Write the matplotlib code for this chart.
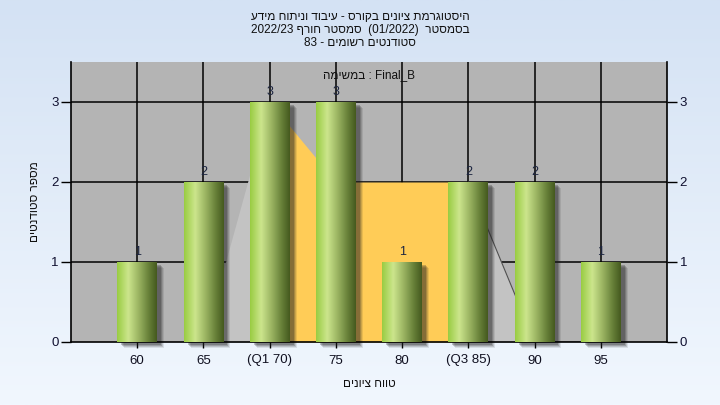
import re
import numpy as np
import matplotlib
matplotlib.use("Agg")
import matplotlib.pyplot as plt
from matplotlib.colors import LinearSegmentedColormap
from matplotlib.patches import Rectangle
from matplotlib.transforms import offset_copy

# ---------------- data ----------------
tick_labels = ["60", "65", "(Q1 70)", "75", "80", "(Q3 85)", "90", "95"]
counts = [1, 2, 3, 3, 1, 2, 2, 1]
area_values = [0, 0, 3, 2, 2, 2, 0, 0]
q1_index = 2
q3_index = 5

title_lines = [
    "היסטוגרמת ציונים בקורס - עיבוד וניתוח מידע",
    "בסמסטר  (01/2022)  סמסטר חורף 2022/23",
    "סטודנטים רשומים - 83",
]
subtitle = "Final_B : במשימה"
xlabel = "טווח ציונים"
ylabel = "מספר סטודנטים"

FONT = ["Liberation Sans", "DejaVu Sans"]


def vis(s):
    """Simple RTL paragraph -> visual LTR order."""
    runs = re.findall(r"[A-Za-z0-9_/().]+|[^A-Za-z0-9_/().]+", s)
    out = []
    for r in reversed(runs):
        if re.match(r"[A-Za-z0-9_/().]", r):
            out.append(r)
        else:
            out.append(r[::-1])
    return "".join(out)


fig = plt.figure(figsize=(7.2, 4.05), dpi=100)

# background gradient
bg = fig.add_axes([0, 0, 1, 1], zorder=-10)
top_c = np.array([212, 226, 244]) / 255
bot_c = np.array([241, 247, 254]) / 255
t = np.linspace(0, 1, 256)[:, None]
grad = top_c[None, :] * (1 - t) + bot_c[None, :] * t
bg.imshow(grad[:, None, :], aspect="auto", extent=[0, 1, 0, 1])
bg.axis("off")

ax = fig.add_axes([71 / 720, 63 / 405, 596 / 720, 280 / 405])
ax.set_facecolor("#b4b4b4")
x = np.arange(len(counts))
ax.set_xlim(-1, 8)
ax.set_ylim(0, 3.5)

# grid
for xi in x:
    ax.plot([xi, xi], [0, 3.5], color="black", lw=1.1, zorder=0.6)
for yi in range(1, 4):
    ax.plot([-1, 8], [yi, yi], color="black", lw=1.1, zorder=0.6)

# area series
xa = x.astype(float)
ya = np.array(area_values, dtype=float)
ax.fill_between(xa[: q1_index + 1], ya[: q1_index + 1], 0, color="#c3c3c3", lw=0, zorder=1)
ax.fill_between(xa[q3_index:], ya[q3_index:], 0, color="#c3c3c3", lw=0, zorder=1)
ax.fill_between(xa[q1_index: q3_index + 1], ya[q1_index: q3_index + 1], 0,
                color="#ffcc57", lw=0, zorder=1.1)
ax.plot(xa[q3_index:], ya[q3_index:], color="#505050", lw=0.8, zorder=1.2)

# bars with shadow and cylinder gradient
w = 0.6
cmap = LinearSegmentedColormap.from_list(
    "cyl",
    [(0.0, (0.60, 0.80, 0.26)), (0.28, (0.80, 0.90, 0.55)),
     (0.55, (0.60, 0.70, 0.38)), (0.8, (0.40, 0.50, 0.22)),
     (1.0, (0.27, 0.35, 0.12))])
gradimg = np.linspace(0, 1, 200)[None, :]
label_tr = offset_copy(ax.transData, fig=fig, x=0, y=4, units="dots")
for xi, v in zip(x, counts):
    for k, (d, a) in enumerate([(7, 0.10), (6, 0.15), (5, 0.2), (4, 0.25)]):
        tr = offset_copy(ax.transData, fig=fig, x=d, y=-d + 1, units="dots")
        ax.add_patch(Rectangle((xi - w / 2, 0), w, v, transform=tr,
                               facecolor="#202020", alpha=a, lw=0,
                               zorder=2, clip_on=False))
    ax.imshow(gradimg, extent=[xi - w / 2, xi + w / 2, 0, v], aspect="auto",
              cmap=cmap, zorder=3, interpolation="bilinear")
    ax.text(xi, v, str(v), ha="center", va="bottom", fontsize=9,
            color="#1c2540", family=FONT, zorder=4, transform=label_tr)

ax.set_xlim(-1, 8)
ax.set_ylim(0, 3.5)

# axes styling
ax.spines["top"].set_visible(False)
for s in ["left", "right", "bottom"]:
    ax.spines[s].set_color("black")
    ax.spines[s].set_linewidth(1.2)
ax.set_xticks(x)
ax.set_xticklabels(tick_labels, family=FONT, fontsize=9.5, color="#101020")
ax.set_yticks([0, 1, 2, 3])
ax.set_yticklabels(["0", "1", "2", "3"], family=FONT, fontsize=9.5, color="#101030")
ax.tick_params(axis="x", length=4, width=1, pad=5)
ax.tick_params(axis="y", length=7, width=1, pad=2, right=True, labelright=True)

ax.set_xlabel(vis(xlabel), family=FONT, fontsize=8.5, labelpad=8, color="#101010")
ax.set_ylabel(vis(ylabel), family=FONT, fontsize=8.5, labelpad=7, color="#101010")

ax.text(0.5, 0.955, vis(subtitle), transform=ax.transAxes, ha="center", va="center",
        fontsize=8.5, family=FONT, color="#101010", zorder=5)

for i, line in enumerate(title_lines):
    fig.text(0.5, 1 - (17 + 13 * i) / 405, vis(line), ha="center", va="center",
             fontsize=8.5, family=FONT, color="#101010")

fig.savefig("out.png", dpi=100)
